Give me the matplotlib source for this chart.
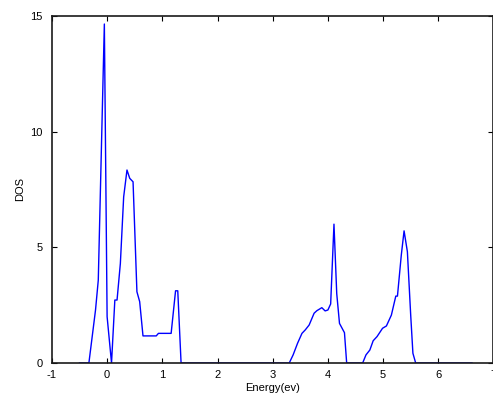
import matplotlib
matplotlib.use("Agg")
import matplotlib.pyplot as plt

# energia (eV) y densidad de estados
energia = [-0.5, -0.33, -0.21, -0.16, -0.05, 0.0, 0.08, 0.14, 0.18, 0.24, 0.30,
           0.36, 0.41, 0.47, 0.54, 0.59, 0.65, 0.89, 0.93, 1.16, 1.24, 1.28,
           1.34, 3.30, 3.37, 3.45, 3.53, 3.59, 3.66, 3.75, 3.80, 3.89, 3.95,
           4.00, 4.05, 4.11, 4.16, 4.21, 4.30, 4.34, 4.63, 4.69, 4.76, 4.82,
           4.89, 4.99, 5.06, 5.15, 5.23, 5.26, 5.33, 5.38, 5.44, 5.50, 5.54,
           5.59, 6.61]
dos = [0.0, 0.0, 2.29, 3.58, 14.65, 2.0, 0.0, 2.72, 2.72, 4.3, 7.18,
       8.34, 7.98, 7.83, 3.08, 2.65, 1.17, 1.17, 1.28, 1.28, 3.12, 3.12,
       0.0, 0.0, 0.35, 0.85, 1.28, 1.43, 1.64, 2.15, 2.26, 2.39, 2.25,
       2.29, 2.55, 6.0, 3.0, 1.71, 1.31, 0.0, 0.0, 0.35, 0.56, 0.96,
       1.14, 1.50, 1.60, 2.07, 2.89, 2.89, 4.67, 5.71, 4.81, 2.07, 0.42,
       0.0, 0.0]

xticks = [-1, 0, 1, 2, 3, 4, 5, 6, 7]
yticks = [0, 5, 10, 15]

plt.rcParams['font.family'] = ['Liberation Sans', 'DejaVu Sans']

fig = plt.figure(figsize=(4.93, 3.98), dpi=100)
ax = fig.add_axes([0.1053, 0.088, 0.8957, 0.872])

ax.plot(energia, dos, color='#0000ff', lw=1.0)

ax.set_xlim(-1, 7)
ax.set_ylim(0, 15)
ax.set_xticks(xticks)
ax.set_yticks(yticks)
ax.set_xticklabels([str(t) for t in xticks])
ax.set_yticklabels([str(t) for t in yticks])
ax.tick_params(direction='in', length=3.5, width=0.8, labelsize=8,
               top=True, right=True)
ax.tick_params(axis='x', pad=5)
ax.tick_params(axis='y', pad=6.5)
for s in ax.spines.values():
    s.set_linewidth(1.2)
    s.set_color('#1a1a1a')

ax.set_xlabel('Energy(ev)', fontsize=8, labelpad=2)
ax.set_ylabel('DOS', fontsize=8, labelpad=4)

fig.savefig('out.png', dpi=100)
